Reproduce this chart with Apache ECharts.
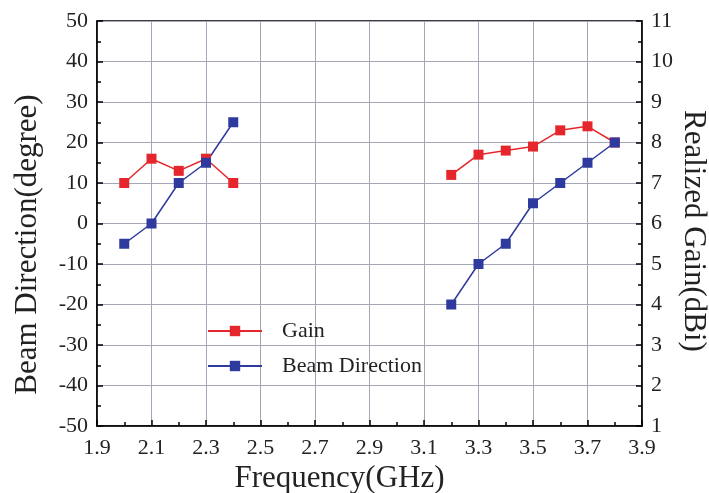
<!DOCTYPE html>
<html><head><meta charset="utf-8">
<script src="https://cdn.jsdelivr.net/npm/echarts@6/dist/echarts.min.js"></script>
<style>html,body{margin:0;padding:0;background:#fff}#c{width:709px;height:493px}</style>
</head><body><div id="c"></div>
<script>
const freqs = [2.0, 2.1, 2.2, 2.3, 2.4, 3.2, 3.3, 3.4, 3.5, 3.6, 3.7, 3.8];
const gain = [7.0, 7.6, 7.3, 7.6, 7.0, 7.2, 7.7, 7.8, 7.9, 8.3, 8.4, 8.0];
const beamDirection = [-5, 0, 10, 15, 25, -20, -10, -5, 5, 10, 15, 20];

function toData(ys) {
  const out = [];
  for (let i = 0; i < freqs.length; i++) {
    if (i > 0 && freqs[i] - freqs[i - 1] > 0.15) out.push([(freqs[i] + freqs[i - 1]) / 2, '-']);
    out.push([freqs[i], ys[i]]);
  }
  return out;
}
const font = 'Liberation Serif';
const red = '#e5262c', blue = '#2e3a9e';
const chart = echarts.init(document.getElementById('c'));
const tickStyle = { color: '#000', width: 1.5 };
const labelColor = '#222';
chart.setOption({
  animation: false,
  grid: { left: 97, right: 67, top: 21, bottom: 67, containLabel: false, outerBoundsMode: 'none',
    show: true, borderColor: '#000', borderWidth: 1.5 },
  legend: {
    orient: 'vertical', left: 202, top: 315, itemWidth: 54, itemHeight: 13, itemGap: 13,
    textStyle: { fontFamily: font, fontSize: 22, color: labelColor, padding: [0, 0, 0, 15] },
    data: [{ name: 'Gain' }, { name: 'Beam Direction' }]
  },
  xAxis: {
    type: 'value', min: 1.9, max: 3.9, interval: 0.2,
    name: 'Frequency(GHz)', nameLocation: 'middle', nameGap: 37, nameMoveOverlap: false,
    nameTextStyle: { fontFamily: font, fontSize: 31, color: labelColor, padding: [0, 60, 0, 0] },
    axisLine: { onZero: false, lineStyle: { color: '#000', width: 1.5 } },
    axisTick: { inside: true, length: 6, lineStyle: tickStyle },
    minorTick: { show: true, splitNumber: 2, length: 4, lineStyle: tickStyle },
    splitLine: { show: true, lineStyle: { color: '#a3a7b8', width: 1 } },
    axisLabel: { fontFamily: font, fontSize: 22, color: labelColor, margin: 11,
      formatter: v => v.toFixed(1) }
  },
  yAxis: [{
    type: 'value', min: -50, max: 50, interval: 10,
    name: 'Beam Direction(degree)', nameLocation: 'middle', nameGap: 54, nameRotate: 90, nameMoveOverlap: false,
    nameTextStyle: { fontFamily: font, fontSize: 31, color: labelColor, padding: [0, 42, 0, 0] },
    axisLine: { show: true, onZero: false, lineStyle: { color: '#000', width: 1.5 } },
    axisTick: { show: true, inside: true, length: 6, lineStyle: tickStyle },
    minorTick: { show: true, splitNumber: 2, length: 4, lineStyle: tickStyle },
    splitLine: { show: true, lineStyle: { color: '#a3a7b8', width: 1 } },
    axisLabel: { fontFamily: font, fontSize: 22, color: labelColor, margin: 9 }
  }, {
    type: 'value', min: 1, max: 11, interval: 1, position: 'right',
    name: 'Realized Gain(dBi)', nameLocation: 'middle', nameGap: 36, nameRotate: -90, nameMoveOverlap: false,
    nameTextStyle: { fontFamily: font, fontSize: 31, color: labelColor, padding: [0, 0, 0, 15] },
    axisLine: { show: true, onZero: false, lineStyle: { color: '#000', width: 1.5 } },
    axisTick: { show: true, inside: true, length: 6, lineStyle: tickStyle },
    minorTick: { show: true, splitNumber: 2, length: 4, lineStyle: tickStyle },
    splitLine: { show: false },
    axisLabel: { fontFamily: font, fontSize: 22, color: labelColor, margin: 9 }
  }],
  series: [{
    name: 'Gain', type: 'line', yAxisIndex: 1, data: toData(gain),
    symbol: 'rect', symbolSize: 10, connectNulls: false,
    lineStyle: { color: red, width: 1.5 }, itemStyle: { color: red }
  }, {
    name: 'Beam Direction', type: 'line', yAxisIndex: 0, data: toData(beamDirection),
    symbol: 'rect', symbolSize: 10, connectNulls: false,
    lineStyle: { color: blue, width: 1.5 }, itemStyle: { color: blue }
  }]
});
</script></body></html>
